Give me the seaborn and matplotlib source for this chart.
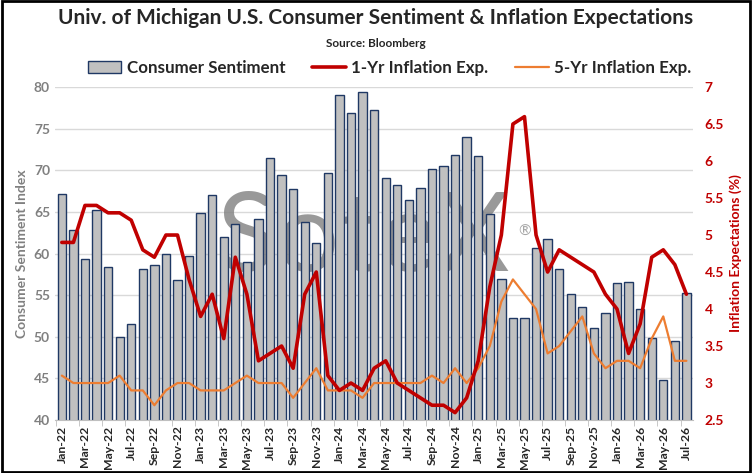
import numpy as np
import pandas as pd
import seaborn as sns
import matplotlib.pyplot as plt
from matplotlib.patches import Patch
from matplotlib.lines import Line2D
from matplotlib.ticker import FixedLocator, MultipleLocator

# Données (mensuel, janv. 2022 -> juil. 2026)
months = pd.date_range("2022-01-01", "2026-07-01", freq="MS").strftime("%b-%y").tolist()

sentiment = [67.2, 62.8, 59.4, 65.2, 58.4, 50.0, 51.5, 58.2, 58.6, 59.9, 56.8, 59.7,
             64.9, 67.0, 62.0, 63.5, 59.0, 64.2, 71.5, 69.4, 67.8, 63.8, 61.3, 69.7,
             79.0, 76.9, 79.4, 77.2, 69.1, 68.2, 66.4, 67.9, 70.1, 70.5, 71.8, 74.0,
             71.7, 64.7, 57.0, 52.2, 52.2, 60.7, 61.7, 58.2, 55.1, 53.6, 51.0, 52.9,
             56.4, 56.6, 53.3, 49.8, 44.8, 49.5, 55.3]

infl_1y = [4.9, 4.9, 5.4, 5.4, 5.3, 5.3, 5.2, 4.8, 4.7, 5.0, 5.0, 4.4,
           3.9, 4.2, 3.6, 4.7, 4.2, 3.3, 3.4, 3.5, 3.2, 4.2, 4.5, 3.1,
           2.9, 3.0, 2.9, 3.2, 3.3, 3.0, 2.9, 2.8, 2.7, 2.7, 2.6, 2.8,
           3.3, 4.3, 5.0, 6.5, 6.6, 5.0, 4.5, 4.8, 4.7, 4.6, 4.5, 4.2,
           4.0, 3.4, 3.8, 4.7, 4.8, 4.6, 4.2]

infl_5y = [3.1, 3.0, 3.0, 3.0, 3.0, 3.1, 2.9, 2.9, 2.7, 2.9, 3.0, 3.0,
           2.9, 2.9, 2.9, 3.0, 3.1, 3.0, 3.0, 3.0, 2.8, 3.0, 3.2, 2.9,
           2.9, 2.9, 2.8, 3.0, 3.0, 3.0, 3.0, 3.0, 3.1, 3.0, 3.2, 3.0,
           3.2, 3.5, 4.1, 4.4, 4.2, 4.0, 3.4, 3.5, 3.7, 3.9, 3.4, 3.2,
           3.3, 3.3, 3.2, 3.6, 3.9, 3.3, 3.3]

df = pd.DataFrame({"month": months, "sentiment": sentiment,
                   "y1": infl_1y, "y5": infl_5y})
df["pos"] = np.arange(len(df))

sns.set_style("white")
plt.rcParams["font.family"] = ["Lato", "DejaVu Sans"]

RED = "#C00000"
ORANGE = "#ED7D31"
GRAY_TXT = "#808080"

fig = plt.figure(figsize=(7.52, 4.73), dpi=100)
ax = fig.add_axes([0.073, 0.112, 0.849, 0.704])

# Barres
sns.barplot(data=df, x="month", y="sentiment", ax=ax, color="#C0C0C0",
            edgecolor="#1F3864", linewidth=1.0, width=0.72, saturation=1, zorder=2)
ax.set_ylim(40, 80)
ax.set_xlim(-0.6, len(df) - 0.4)
ax.yaxis.set_major_locator(MultipleLocator(5))
ax.grid(axis="y", color="#D9D9D9", linewidth=1)
ax.set_axisbelow(True)
for s in ["top", "left", "right"]:
    ax.spines[s].set_visible(False)
ax.spines["bottom"].set_color("#BFBFBF")

ax.set_xticks(df["pos"][::2])
ax.set_xticklabels(df["month"][::2], rotation=90, fontsize=8.8, fontweight="bold")
ax.tick_params(axis="x", length=0, pad=4)
ax.xaxis.set_minor_locator(FixedLocator(np.arange(-0.5, len(df), 2)))
ax.tick_params(axis="x", which="minor", length=4, color="#BFBFBF", bottom=True)
ax.tick_params(axis="y", labelsize=10, labelcolor=GRAY_TXT, length=0)
for t in ax.get_yticklabels():
    t.set_fontweight("bold")
ax.set_xlabel("")
ax.set_ylabel("Consumer Sentiment Index", color=GRAY_TXT, fontsize=10, fontweight="bold")

# Filigrane
ax.text(0.483, 0.54, "SoteX", transform=ax.transAxes, fontsize=80,
        color="#808080", alpha=0.8, ha="center", va="center", zorder=1)
ax.text(0.735, 0.565, "®", transform=ax.transAxes, fontsize=11,
        color="#A6A6A6", ha="center", va="center", zorder=1)

# Lignes d'inflation
ax2 = ax.twinx()
sns.lineplot(data=df, x="pos", y="y5", ax=ax2, color=ORANGE, linewidth=1.6)
sns.lineplot(data=df, x="pos", y="y1", ax=ax2, color=RED, linewidth=2.6)
ax2.set_ylim(2.5, 7)
ax2.set_xlim(-0.6, len(df) - 0.4)
ax2.set_yticks(np.arange(2.5, 7.01, 0.5))
ax2.set_yticklabels([f"{v:g}" for v in np.arange(2.5, 7.01, 0.5)])
ax2.tick_params(axis="y", labelsize=10, labelcolor=RED, length=0, pad=8)
for t in ax2.get_yticklabels():
    t.set_fontweight("bold")
for s in ["top", "left", "right", "bottom"]:
    ax2.spines[s].set_visible(False)
ax2.set_ylabel("Inflation Expectations (%)", color=RED, fontsize=10, fontweight="bold")
ax2.set_xlabel("")

# Titres
fig.text(0.5, 0.962, "Univ. of Michigan U.S. Consumer Sentiment & Inflation Expectations",
         ha="center", va="center", fontsize=15, fontweight="bold")
fig.text(0.5, 0.907, "Source: Bloomberg", ha="center", va="center",
         fontsize=8.5, fontweight="bold")

handles = [Patch(facecolor="#C0C0C0", edgecolor="#1F3864", label="Consumer Sentiment"),
           Line2D([0], [0], color=RED, linewidth=2.6, label="1-Yr Inflation Exp."),
           Line2D([0], [0], color=ORANGE, linewidth=1.6, label="5-Yr Inflation Exp.")]
leg = fig.legend(handles=handles, loc="center", bbox_to_anchor=(0.518, 0.856), ncol=3,
                 frameon=False, fontsize=12.2, handlelength=2.0, handletextpad=0.3,
                 columnspacing=1.6)
for t in leg.get_texts():
    t.set_fontweight("bold")

# Cadre noir autour du graphique
fig.patches.append(plt.Rectangle((0.002, 0.003), 0.996, 0.994, transform=fig.transFigure,
                                 fill=False, edgecolor="black", linewidth=2))

fig.savefig("out.png", dpi=100)
